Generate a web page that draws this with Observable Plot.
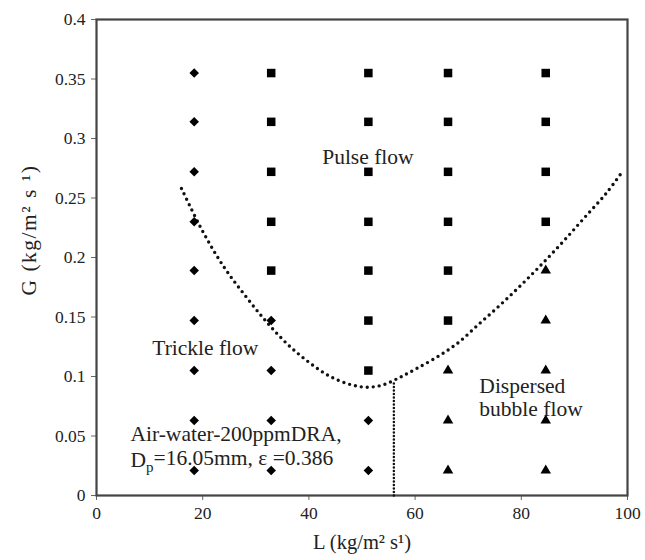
<!DOCTYPE html>
<html>
<head>
<meta charset="utf-8">
<script src="https://cdn.jsdelivr.net/npm/d3@7"></script>
<script src="https://cdn.jsdelivr.net/npm/@observablehq/plot@0.6"></script>
<style>
  body { margin: 0; background: #fff; }
</style>
</head>
<body>
<div id="chart"></div>
<script>
// Flow regime map: gas mass flux G vs liquid mass flux L
const xTicks = [0, 20, 40, 60, 80, 100];
const yTicks = [0, 0.05, 0.1, 0.15, 0.2, 0.25, 0.3, 0.35, 0.4];

// Observed regimes, [L, G] pairs
const trickleFlow = [
  [18.4, 0.021], [18.4, 0.063], [18.4, 0.105], [18.4, 0.147], [18.4, 0.189],
  [18.4, 0.230], [18.4, 0.272], [18.4, 0.314], [18.4, 0.355],
  [32.9, 0.021], [32.9, 0.063], [32.9, 0.105], [32.9, 0.147],
  [51.2, 0.021], [51.2, 0.063]
];
const pulseFlow = [
  [32.9, 0.189], [32.9, 0.230], [32.9, 0.272], [32.9, 0.314], [32.9, 0.355],
  [51.2, 0.105], [51.2, 0.147], [51.2, 0.189], [51.2, 0.230], [51.2, 0.272], [51.2, 0.314], [51.2, 0.355],
  [66.2, 0.147], [66.2, 0.189], [66.2, 0.230], [66.2, 0.272], [66.2, 0.314], [66.2, 0.355],
  [84.6, 0.230], [84.6, 0.272], [84.6, 0.314], [84.6, 0.355]
];
const dispersedBubbleFlow = [
  [66.2, 0.021], [66.2, 0.063], [66.2, 0.105],
  [84.6, 0.021], [84.6, 0.063], [84.6, 0.105], [84.6, 0.147], [84.6, 0.189]
];

// Trickle/pulse transition boundary
const boundaryL = [16, 20, 24, 28, 32, 36, 40, 44, 48, 51, 54, 57, 60, 64, 68, 72, 76, 80, 84, 88, 92, 96, 99];
const boundaryG = [0.258, 0.222, 0.192, 0.168, 0.146, 0.127, 0.112, 0.100, 0.093, 0.091, 0.093, 0.099,
                   0.106, 0.116, 0.128, 0.144, 0.160, 0.177, 0.195, 0.214, 0.234, 0.254, 0.272];
// Trickle/dispersed bubble transition
const transitionL = [56, 56];
const transitionG = [0, 0.097];

const xLabel = "L (kg/m² s¹)";
const yLabel = "G (kg/m² s ¹)";
const notes = [
  {text: "Pulse flow", L: 42.5, G: 0.284},
  {text: "Trickle flow", L: 10.5, G: 0.124},
  {text: "Dispersed", L: 72.1, G: 0.0916},
  {text: "bubble flow", L: 72.1, G: 0.073},
  {text: "Air-water-200ppmDRA,", L: 6.4, G: 0.052},
  {text: "Dp=16.05mm, ε =0.386", L: 6.4, G: 0.0294}
];

const toPoints = (pairs) => pairs.map(([L, G]) => ({L, G}));
const boundary = boundaryL.map((L, i) => ({L, G: boundaryG[i]}));
const transition = transitionL.map((L, i) => ({L, G: transitionG[i]}));

const chart = Plot.plot({
  width: 645,
  height: 560,
  marginTop: 19,
  marginRight: 18,
  marginBottom: 65,
  marginLeft: 96,
  x: {domain: [0, 100]},
  y: {domain: [0, 0.4]},
  style: {fontFamily: "'Liberation Serif', 'Times New Roman', serif", fontSize: "17px", color: "#222", background: "#fff"},
  marks: [
    Plot.axisX({ticks: xTicks, tickSize: 5, tickPadding: 6, fontSize: 17.5, label: null, stroke: "#666"}),
    Plot.axisY({ticks: yTicks, tickSize: 5, tickPadding: 6, fontSize: 17.5, label: null, stroke: "#666", tickFormat: d => String(d)}),
    Plot.frame({stroke: "#444", strokeWidth: 2.2}),
    Plot.line(boundary, {x: "L", y: "G", stroke: "#111", strokeWidth: 3.4, strokeDasharray: "0,6", strokeLinecap: "round", curve: "catmull-rom"}),
    Plot.line(transition, {x: "L", y: "G", stroke: "#111", strokeWidth: 2.5, strokeDasharray: "0,3.5", strokeLinecap: "round"}),
    Plot.dot(toPoints(trickleFlow), {x: "L", y: "G", symbol: "diamond2", r: 4.3, fill: "#000", stroke: "none"}),
    Plot.dot(toPoints(pulseFlow), {x: "L", y: "G", symbol: "square", r: 4.8, fill: "#000", stroke: "none"}),
    Plot.dot(toPoints(dispersedBubbleFlow), {x: "L", y: "G", symbol: "triangle", r: 3.9, fill: "#000", stroke: "none"}),
    Plot.text(notes, {x: "L", y: "G", text: "text", textAnchor: "start", fontSize: 21.5, fill: "#222"}),
    Plot.text([xLabel], {text: d => d, frameAnchor: "bottom", dy: 53, fontSize: 20.5, fill: "#222"}),
    Plot.text([yLabel], {text: d => d, frameAnchor: "left", dx: -67, dy: 38, rotate: -90, fontSize: 21.5, fill: "#222"})
  ]
});

// Subscript p in the particle diameter symbol
d3.select(chart).selectAll("text")
  .filter(function () { return this.textContent === "Dp=16.05mm, ε =0.386"; })
  .each(function () {
    const t = d3.select(this);
    t.text(null);
    t.append("tspan").text("D");
    t.append("tspan").attr("dy", "0.3em").attr("font-size", "0.7em").text("p");
    t.append("tspan").attr("dy", "-0.3em").text("=16.05mm, ε =0.386");
  });

// Looser tracking on the vertical axis title
d3.select(chart).selectAll("text")
  .filter(function () { return this.textContent === yLabel; })
  .attr("letter-spacing", "1.5px");

document.getElementById("chart").appendChild(chart);
</script>
</body>
</html>
